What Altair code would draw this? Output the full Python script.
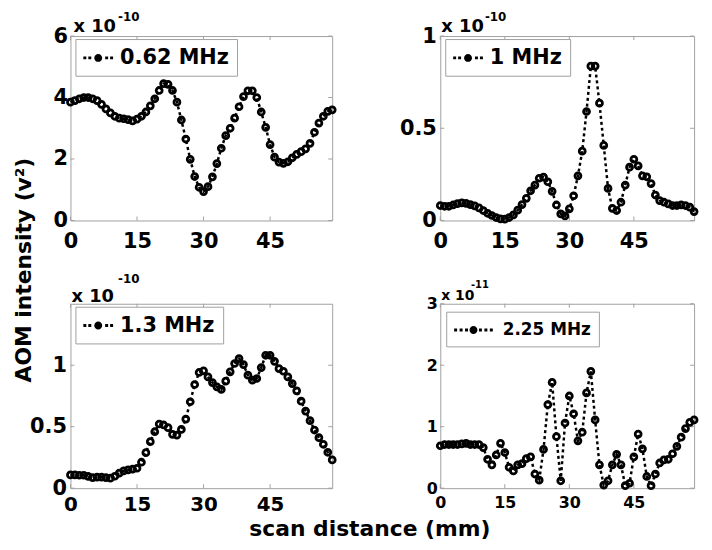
import altair as alt
import pandas as pd

# ---------------- data ----------------
MM = list(range(60))  # scan distance, mm

V_062 = [3.85, 3.90, 3.96, 4.00, 4.00, 3.96, 3.90, 3.78, 3.63, 3.50,
         3.39, 3.33, 3.31, 3.28, 3.24, 3.30, 3.39, 3.53, 3.73, 3.96,
         4.23, 4.45, 4.43, 4.23, 3.85, 3.27, 2.65, 1.99, 1.43, 1.08,
         0.94, 1.10, 1.42, 1.85, 2.35, 2.76, 3.00, 3.33, 3.70, 4.03,
         4.22, 4.22, 4.00, 3.53, 3.03, 2.47, 2.06, 1.90, 1.86, 1.91,
         2.04, 2.15, 2.24, 2.33, 2.51, 2.87, 3.17, 3.39, 3.55, 3.60]

V_1 = [0.081, 0.077, 0.077, 0.084, 0.091, 0.095, 0.093, 0.086, 0.079, 0.068,
       0.054, 0.039, 0.027, 0.016, 0.009, 0.007, 0.016, 0.030, 0.056, 0.086,
       0.120, 0.161, 0.192, 0.229, 0.235, 0.210, 0.158, 0.084, 0.036, 0.025,
       0.063, 0.134, 0.242, 0.376, 0.591, 0.837, 0.837, 0.636, 0.407, 0.174,
       0.066, 0.054, 0.099, 0.192, 0.289, 0.332, 0.296, 0.242, 0.237, 0.200,
       0.138, 0.108, 0.099, 0.090, 0.081, 0.081, 0.084, 0.081, 0.072, 0.048]

V_13 = [0.108, 0.108, 0.105, 0.105, 0.095, 0.086, 0.089, 0.089, 0.086, 0.081,
        0.097, 0.122, 0.141, 0.149, 0.154, 0.162, 0.211, 0.289, 0.378, 0.459,
        0.522, 0.514, 0.492, 0.438, 0.432, 0.478, 0.562, 0.703, 0.843, 0.941,
        0.954, 0.905, 0.859, 0.824, 0.803, 0.870, 0.946, 1.014, 1.054, 1.005,
        0.919, 0.878, 0.892, 0.981, 1.081, 1.081, 1.032, 0.973, 0.951, 0.905,
        0.851, 0.792, 0.708, 0.627, 0.549, 0.473, 0.411, 0.357, 0.292, 0.230]

V_225 = [0.69, 0.71, 0.71, 0.71, 0.71, 0.72, 0.73, 0.71, 0.71, 0.71,
         0.66, 0.47, 0.38, 0.54, 0.73, 0.58, 0.34, 0.28, 0.38, 0.40,
         0.48, 0.51, 0.23, 0.13, 0.63, 1.36, 1.72, 0.84, 0.12, 1.06,
         1.50, 1.21, 0.77, 0.91, 1.55, 1.90, 1.11, 0.38, 0.05, 0.12,
         0.38, 0.55, 0.38, 0.04, 0.08, 0.51, 0.88, 0.64, 0.19, 0.04,
         0.23, 0.41, 0.46, 0.47, 0.56, 0.68, 0.83, 0.97, 1.07, 1.11]

VALUES = [V_062, V_1, V_13, V_225]
LABELS = ["0.62 MHz", "1 MHz", "1.3 MHz", "2.25 MHz"]
EXPONENTS = ["-10", "-10", "-10", "-11"]
X_TICKS = [0, 15, 30, 45]
X_DOMAIN = [0, 59]
Y_DOMAINS = [[0, 6], [0, 1], [0, 1.5], [0, 3]]
Y_TICKS = [[0, 2, 4, 6], [0, 0.5, 1], [0, 0.5, 1], [0, 1, 2, 3]]
Y_TITLE = "AOM intensity (v\u00b2)"
X_TITLE = "scan distance (mm)"

# ---------------- styles ----------------
FONT = "DejaVu Sans"
FRAME = "#a0a0a0"


def sym_path(dots_left, dots_right, dot_w, dot_h, r, unit):
    """Legend glyph: dotted line with a filled circle, in legend symbol units."""
    parts = []
    for x0 in list(dots_left) + list(dots_right):
        parts.append("M%.3f,%.3fh%.3fv%.3fh%.3fz" % (
            x0 / unit, -dot_h / 2 / unit, dot_w / unit, dot_h / unit, -dot_w / unit))
    rr = r / unit
    parts.append("M%.3f,0A%.3f,%.3f,0,1,1,%.3f,0A%.3f,%.3f,0,1,1,%.3f,0Z" % (
        rr, rr, rr, -rr, rr, rr, rr))
    return " ".join(parts)


PATH_A = sym_path([-15, -10], [7, 12], 3, 3, 4, 11)
PATH_B = sym_path([-19.5, -14, -8.5], [5.5, 11, 16.5], 3, 3, 4, 10.5)


def txt(s, x, y, fs, baseline="alphabetic", align="left", angle=0):
    return alt.Chart(pd.DataFrame({"t": [s]})).mark_text(
        font=FONT, fontSize=fs, fontWeight="bold", color="black",
        align=align, baseline=baseline, angle=angle
    ).encode(x=alt.value(x), y=alt.value(y), text="t:N")


def panel(i, w, h, tick_fs, xfs, lpx, lpy, leg_fs, leg_size, leg_path, leg_pad,
          leg_x, leg_y, sym_off, lab_off, exp_fs, sup_fs, exp_xy, sup_xy, extra=()):
    df = pd.DataFrame({"mm": MM, "v": VALUES[i], "s": LABELS[i]})
    X = alt.X("mm:Q", scale=alt.Scale(domain=X_DOMAIN, nice=False, zero=False),
              axis=alt.Axis(values=X_TICKS, title=None, ticks=False, domain=False,
                            grid=False, labelFont=FONT, labelFontSize=xfs,
                            labelFontWeight="bold", labelColor="black",
                            labelPadding=lpx, labelFlush=False, labelOverlap=False))
    Y = alt.Y("v:Q", scale=alt.Scale(domain=Y_DOMAINS[i], nice=False, zero=False),
              axis=alt.Axis(values=Y_TICKS[i], title=None, ticks=False, domain=False,
                            grid=False, labelFont=FONT, labelFontSize=tick_fs,
                            labelFontWeight="bold", labelColor="black",
                            labelPadding=lpy, format="~g", labelFlush=False,
                            labelOverlap=False))
    base = alt.Chart(df)
    line = base.mark_line(color="black", strokeDash=[3, 3], strokeWidth=2.5,
                          strokeCap="butt").encode(x=X, y=Y)
    pts = base.mark_point(shape="circle", filled=False, color="black",
                          strokeWidth=2.8, size=36, opacity=1).encode(x=X, y=Y)
    leg = base.mark_point(filled=True, opacity=1).encode(
        x=X, y=Y, size=alt.value(0),
        color=alt.Color("s:N", scale=alt.Scale(domain=[LABELS[i]], range=["black"]),
                        legend=alt.Legend(
                            title=None, orient="none", legendX=leg_x, legendY=leg_y,
                            fillColor="white", strokeColor=FRAME, padding=leg_pad,
                            cornerRadius=0, labelFont=FONT, labelFontSize=leg_fs,
                            labelFontWeight="bold", labelColor="black",
                            symbolType=leg_path, symbolSize=leg_size,
                            symbolStrokeWidth=0, symbolOpacity=1,
                            symbolOffset=sym_off, labelOffset=lab_off)))
    xt = pd.DataFrame({"mm": X_TICKS})
    yt = pd.DataFrame({"v": Y_TICKS[i]})
    tk = dict(color=FRAME, strokeWidth=1)
    tb = alt.Chart(xt).mark_rule(**tk).encode(x=X, y=alt.value(h), y2=alt.value(h - 4))
    tt = alt.Chart(xt).mark_rule(**tk).encode(x=X, y=alt.value(0), y2=alt.value(4))
    tl = alt.Chart(yt).mark_rule(**tk).encode(y=Y, x=alt.value(0), x2=alt.value(4))
    tr = alt.Chart(yt).mark_rule(**tk).encode(y=Y, x=alt.value(w), x2=alt.value(w - 4))
    e1 = txt("x 10", exp_xy[0], exp_xy[1], exp_fs)
    e2 = txt(EXPONENTS[i], sup_xy[0], sup_xy[1], sup_fs, baseline="top")
    return alt.layer(tb, tt, tl, tr, line, pts, leg, e1, e2, *extra).properties(
        width=w, height=h)


ytitle = txt(Y_TITLE, -40, -34, 22, baseline="alphabetic", align="center", angle=270)
xtitle = txt(X_TITLE, 302, 234, 22, baseline="alphabetic", align="center")

p1 = panel(0, 264, 186, 21, 21, 10, 3, 21, 484, PATH_A, 8, 5, 3, 4, 11, 18, 12, (3, -4), (48, -24))
p2 = panel(1, 256, 186, 21, 21, 10, 4, 21, 484, PATH_A, 8, 5, 3, 4, 11, 18, 12, (1, -4), (45, -24))
p3 = panel(2, 264, 186, 21, 20, 7, 4, 21, 484, PATH_A, 8, 5, 3, 4, 11, 18, 12, (1, -2), (48, -30),
           extra=(ytitle, xtitle))
p4 = panel(3, 256, 186, 16, 16, 6, 3, 17, 441, PATH_B, 8, 6, 8, 9, 19, 14, 10, (1, -4), (31, -24))

chart = alt.concat(p1, p2, p3, p4, columns=2, spacing={"row": 84, "column": 109},
                   bounds="flush").resolve_scale(
    x="independent", y="independent", color="independent").resolve_legend(
    color="independent").properties(
    padding={"left": 4, "top": 0, "right": 0, "bottom": 0},
    background="white").configure_view(stroke=FRAME, strokeWidth=1)

chart.save("out.html", embed_options={"renderer": "svg", "actions": False})
